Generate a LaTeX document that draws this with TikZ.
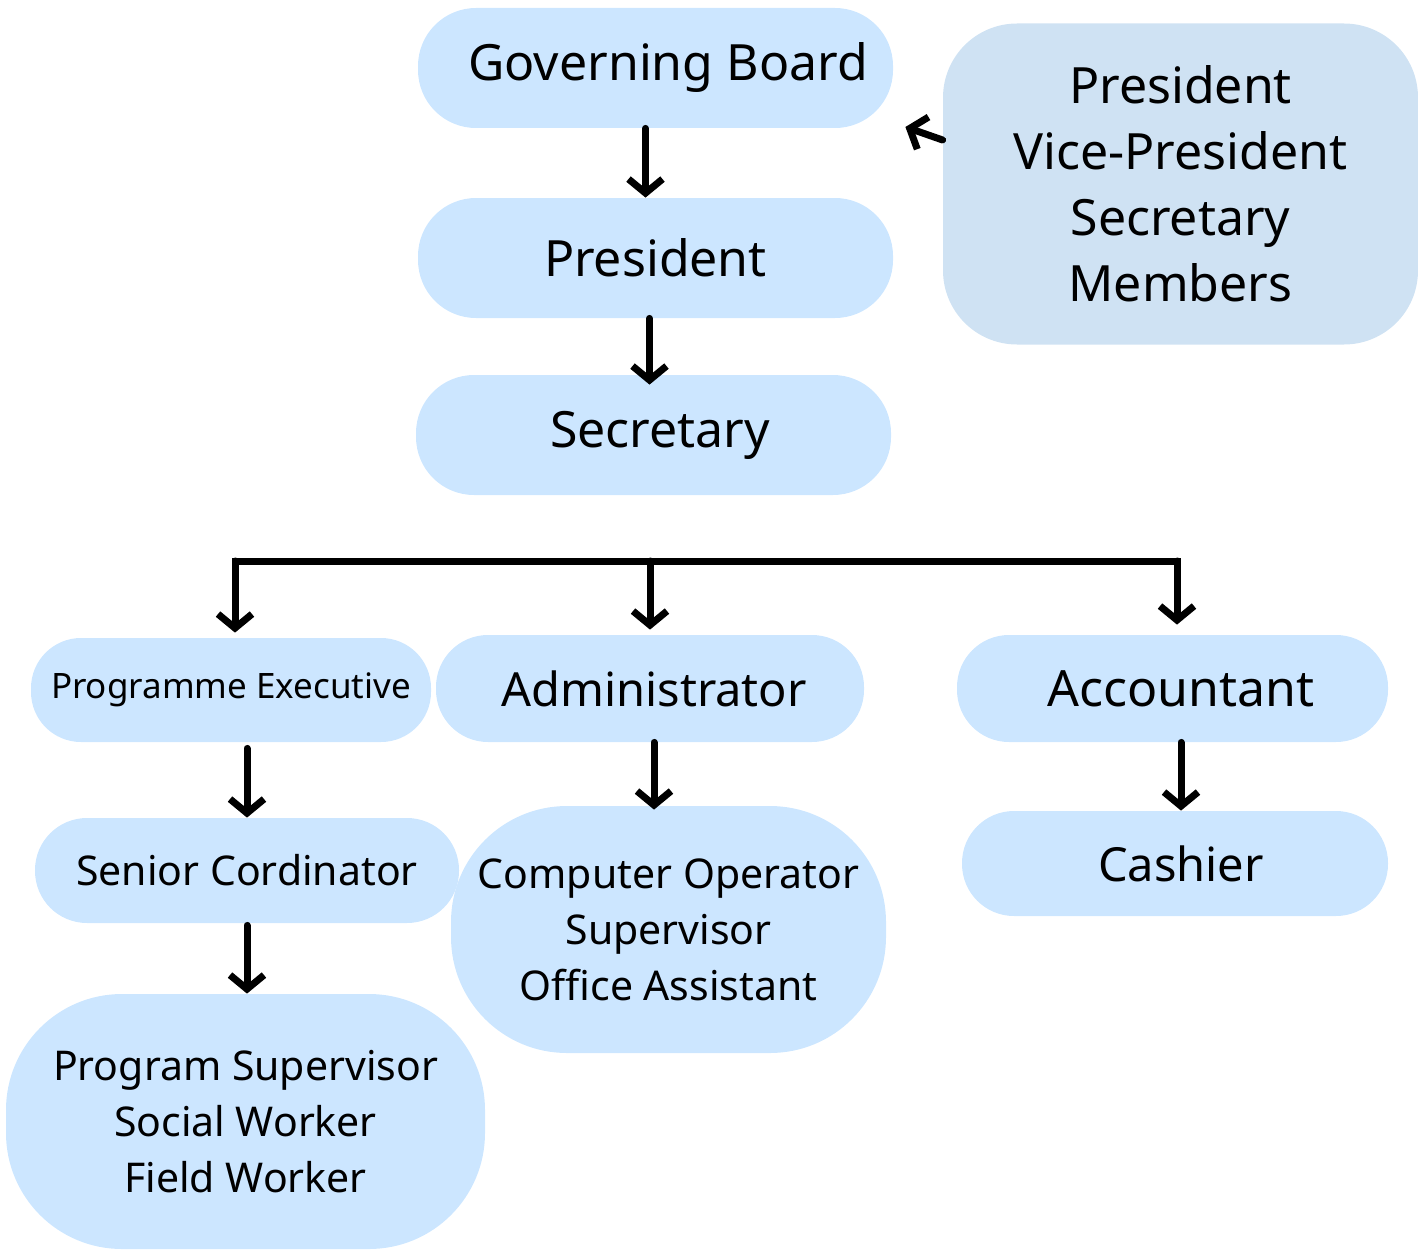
\documentclass[tikz,border=0pt]{standalone}
\usepackage{fontspec}
\setmainfont{Noto Sans}
\usepackage{tikz}
\usetikzlibrary{calc,arrows.meta}

\definecolor{pillblue}{HTML}{CCE6FF}
\definecolor{boardblue}{HTML}{CFE2F3}

\newcommand{\bigtxt}{\fontsize{25}{33}\selectfont}
\newcommand{\adtxt}{\fontsize{23.5}{33}\selectfont}
\newcommand{\midtxt}{\fontsize{20.5}{28}\selectfont}
\newcommand{\smalltxt}{\fontsize{17.5}{22}\selectfont}

\tikzset{
  pill/.style={fill=pillblue, rounded corners=29pt, inner sep=0pt, align=center, font=\bigtxt},
  blob/.style={fill=pillblue, rounded corners=58pt, inner sep=0pt, align=center, font=\midtxt},
  arr/.style={line width=3.5pt, line cap=round, -{Straight Barb[length=7pt,width=17pt]}},
  busline/.style={line width=3.5pt, line cap=rect}
}

\begin{document}
\begin{tikzpicture}[x=0.5pt, y=-0.5pt]
    \useasboundingbox (0,0) rectangle (1418,1252);

    % top of the chart
    \node[pill, minimum width=237.5pt, minimum height=60pt] (gov_board) at (655.5, 68)
    {\hspace*{12.5pt}Governing Board};
    \node[pill, minimum width=237.5pt, minimum height=60pt] (president) at (655.5, 258)
    {President};
    \node[pill, minimum width=237.5pt, minimum height=60pt] (secretary) at (653.5, 435)
    {\hspace*{6.5pt}Secretary};

    % board members
    \node[pill, fill=boardblue, rounded corners=37pt, minimum width=237.5pt, minimum height=160.5pt]
    (board_members) at (1180.5, 184)
    {President\\ Vice-President\\ Secretary\\ Members};

    % second level
    \node[pill, font=\smalltxt, rounded corners=25pt, minimum width=200pt, minimum height=52pt]
    (prog_exec) at (231, 690)
    {Programme Executive};
    \node[pill, font=\adtxt, rounded corners=26pt, minimum width=214pt, minimum height=53.5pt]
    (admin) at (650, 688.5)
    {\hspace*{4pt}Administrator};
    \node[pill, rounded corners=26pt, minimum width=215.5pt, minimum height=53.5pt]
    (accountant) at (1172.5, 688.5)
    {\hspace*{8.5pt}Accountant};

    % third level
    \node[pill, font=\midtxt, rounded corners=26pt, minimum width=212pt, minimum height=52.5pt]
    (senior_cord) at (247, 870.5)
    {Senior Cordinator};
    \node[blob, minimum width=217.5pt, minimum height=123.5pt] (office_staff) at (668.5, 929.5)
    {Computer Operator\\ Supervisor\\ Office Assistant};
    \node[pill, font=\adtxt, rounded corners=26pt, minimum width=213pt, minimum height=52.5pt]
    (cashier) at (1175, 863.5)
    {\hspace*{6pt}Cashier};

    % field staff
    \node[blob, minimum width=239.5pt, minimum height=127.5pt] (field_staff) at (245.5, 1121.5)
    {Program Supervisor\\ Social Worker\\ Field Worker};

    % arrows
    \draw[arr] ([xshift=-5pt]gov_board.south) -- ([xshift=-5pt]gov_board.south |- president.north);
    \draw[arr] ([xshift=-3pt]president.south) -- ([xshift=-3pt,yshift=-5pt]president.south |- secretary.north);
    \draw[arr] ([yshift=22pt]board_members.west) -- ([shift={(6pt,-29.5pt)}]gov_board.east);

    % bus
    \coordinate (bus_left) at (235, 561);
    \coordinate (bus_right) at (1177, 561);
    \draw[busline] (bus_left) -- (bus_right);
    \draw[arr] (bus_left) -- ([yshift=2.5pt]bus_left |- prog_exec.north);
    \draw[arr] (bus_left -| admin.north) -- ([yshift=2.5pt]admin.north);
    \draw[arr] (bus_right) -- ([yshift=5pt]bus_right |- accountant.north);

    \draw[arr] ([yshift=-3pt]senior_cord.north |- prog_exec.south) -- (senior_cord.north);
    \draw[arr] ([yshift=-1pt]senior_cord.south) -- (senior_cord.south |- field_staff.north);
    \draw[arr] ([xshift=2pt]admin.south) -- ([xshift=2pt,yshift=-2pt]admin.south |- office_staff.north);
    \draw[arr] ([xshift=3pt]cashier.north |- accountant.south) -- ([xshift=3pt]cashier.north);
\end{tikzpicture}
\end{document}
